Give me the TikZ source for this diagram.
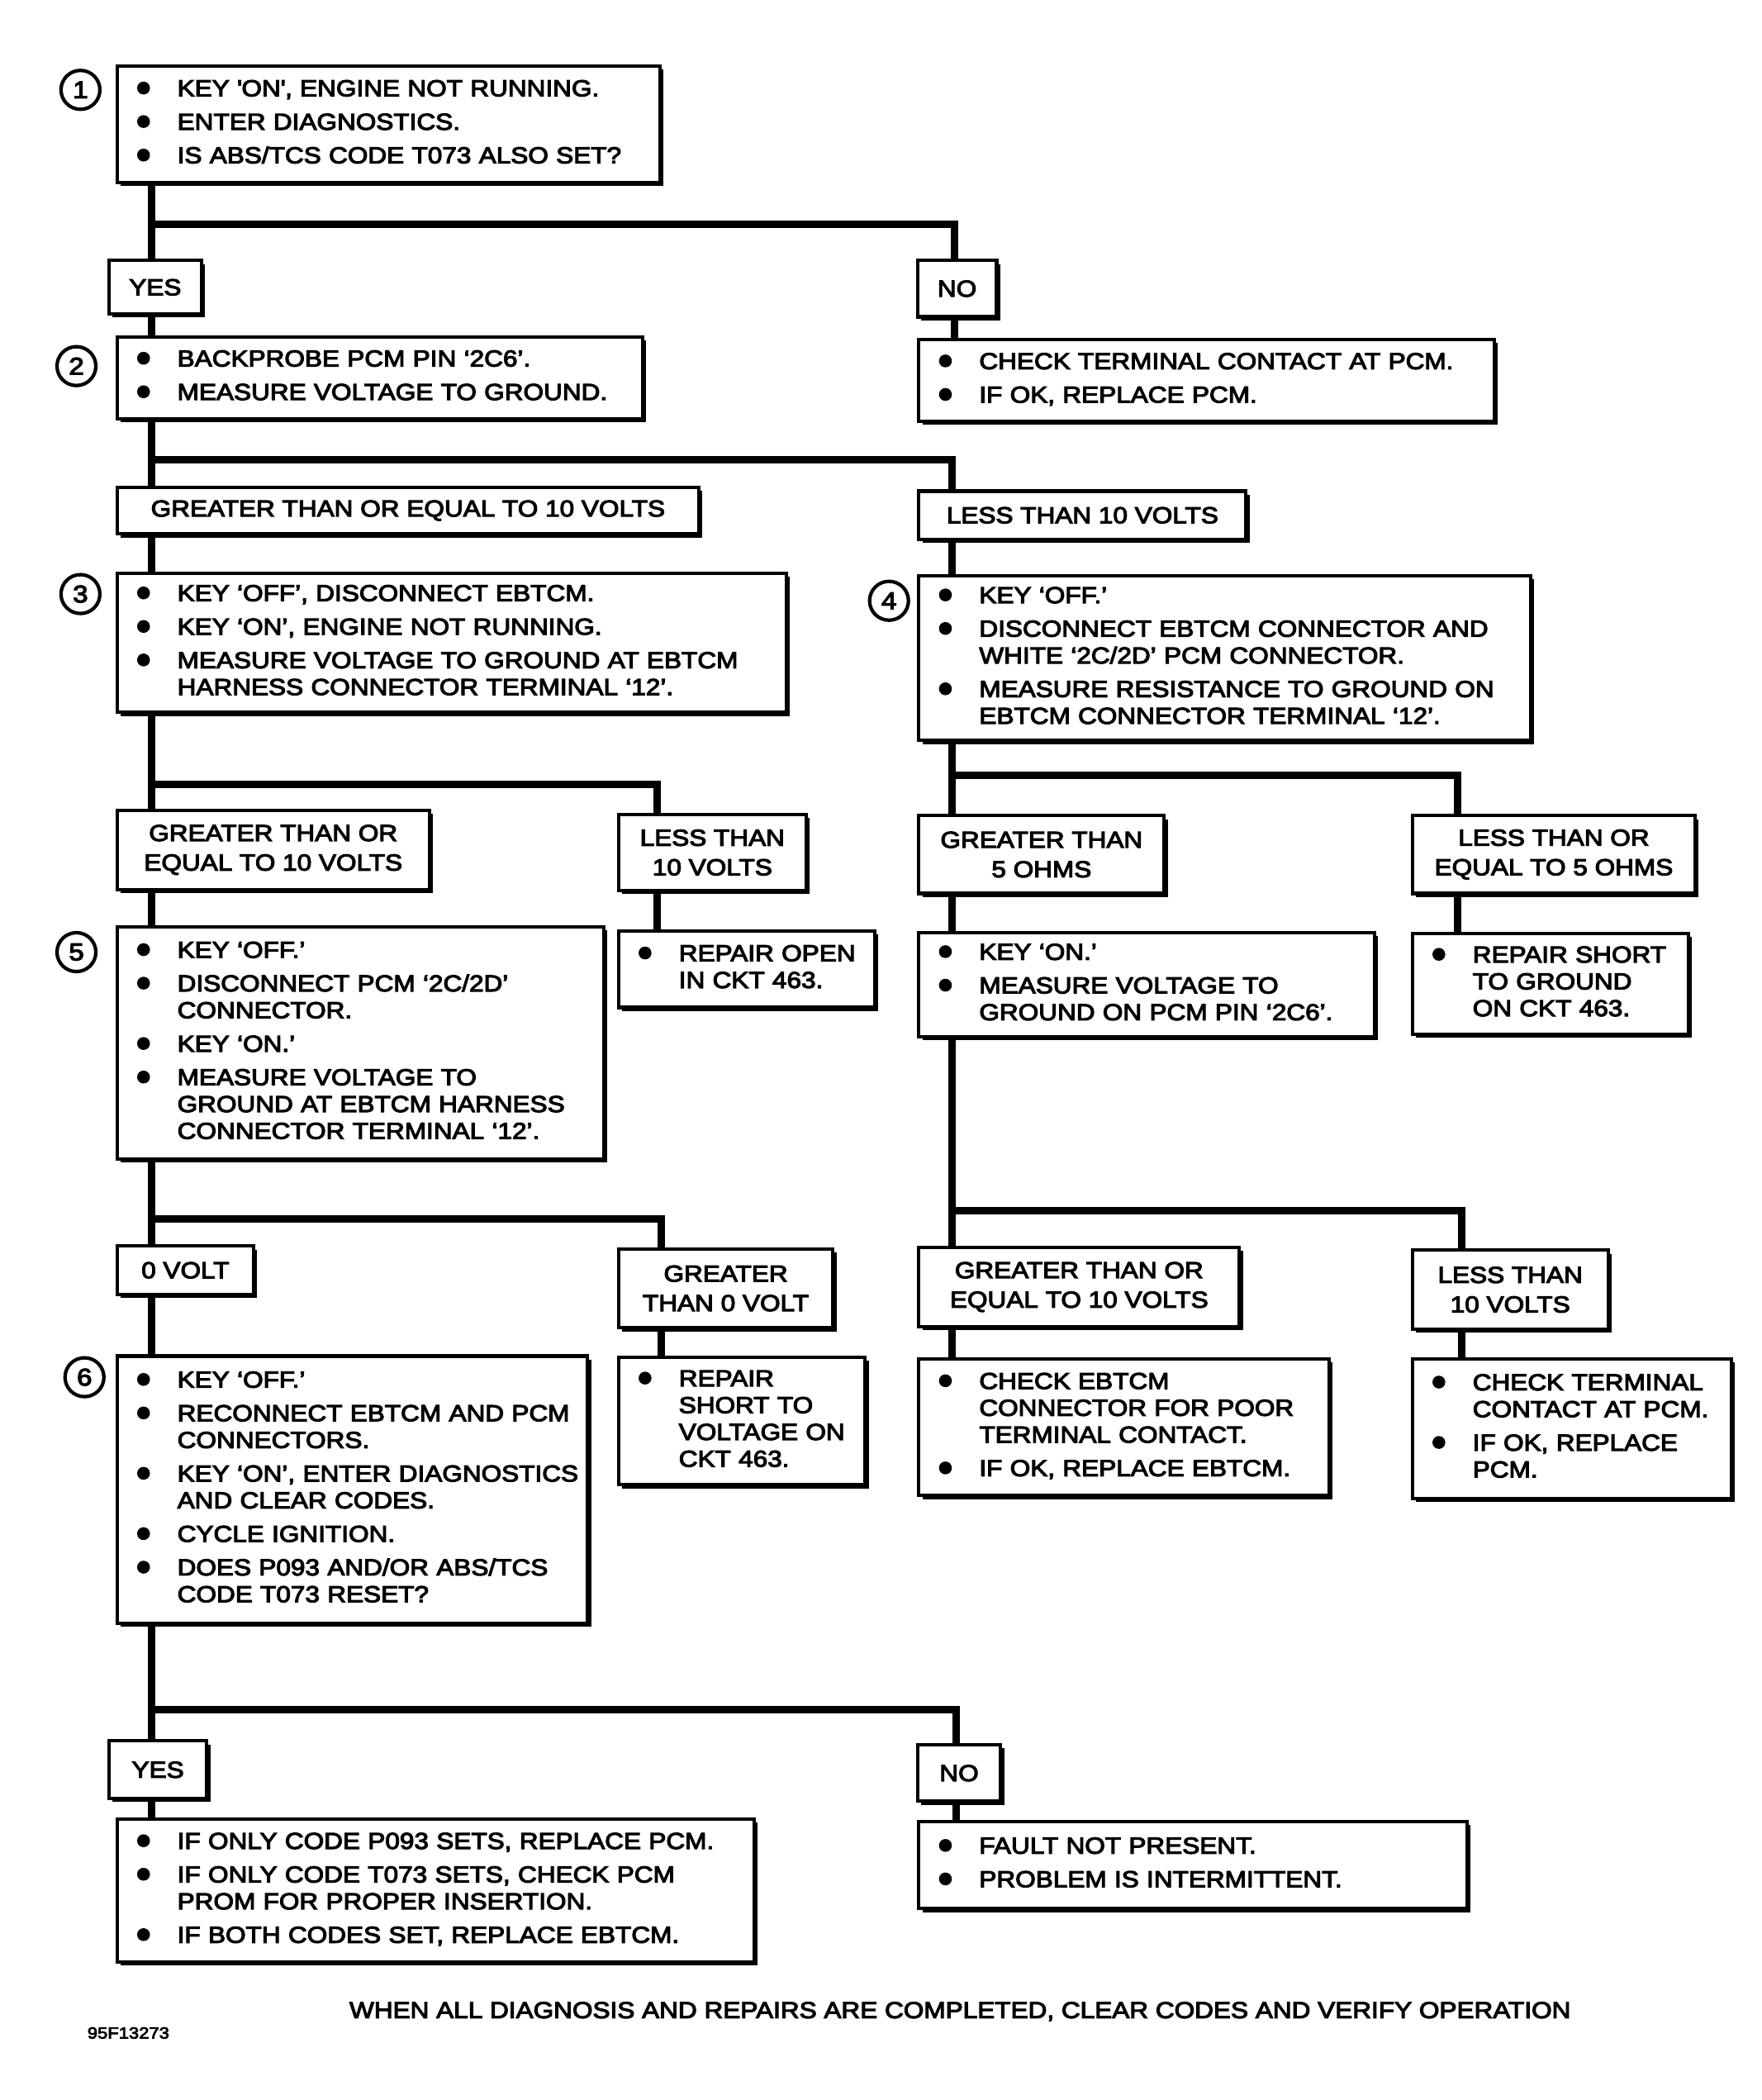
\documentclass[tikz,border=0pt]{standalone}
\usepackage{fontspec}
\setmainfont{Liberation Sans}[FakeBold=4, FakeStretch=1.13]
\usetikzlibrary{backgrounds,shadows}

\newcommand\bul{\makebox[35pt][l]{\hspace{5pt}\tikz[baseline=-6.1pt]\fill (0pt,0pt) circle (4.8pt);}}
\newcommand\steps[1]{\begin{tabular}{@{}l@{}l@{}}#1\end{tabular}}

\tikzset{
  boxed/.style={draw, fill=white, line width=2.5pt,
    drop shadow={shadow xshift=2.6pt, shadow yshift=-2.6pt, opacity=1, fill=black}},
  stepbox/.style={boxed, anchor=north west, inner xsep=10pt, inner ysep=0pt,
    font=\fontsize{17.2}{20}\selectfont},
  answer/.style={boxed, anchor=north west, align=center, inner sep=0pt,
    font=\fontsize{17.2}{22}\selectfont},
  stepno/.style={circle, draw, line width=2.6pt, minimum size=29pt, inner sep=0pt,
    font=\fontsize{18}{20}\selectfont},
  link/.style={line width=5.5pt}
}

\begin{document}
\begin{tikzpicture}[x=1pt,y=-1pt]
\useasboundingbox (0,0) rectangle (1314,1566);

% step numbers
\node[stepno] (one)   at (60,67)   {1};
\node[stepno] (two)   at (57,273)  {2};
\node[stepno] (three) at (60,443)  {3};
\node[stepno] (four)  at (663,448) {4};
\node[stepno] (five)  at (57,710)  {5};
\node[stepno] (six)   at (63,1027) {6};

% left column
\node[stepbox, text width=385pt, minimum height=87pt] (b1) at (86,48)
  {\steps{\bul & KEY \textquotesingle ON\textquotesingle, ENGINE NOT RUNNING.\\[5pt]
          \bul & ENTER DIAGNOSTICS.\\[5pt]
          \bul & IS ABS/TCS CODE T073 ALSO SET?}};
\node[answer, minimum width=69pt, minimum height=40pt] (yes1) at (80,193) {YES};
\node[stepbox, text width=372pt, minimum height=61pt] (b2) at (86,250)
  {\steps{\bul & BACKPROBE PCM PIN ‘2C6’.\\[5pt]
          \bul & MEASURE VOLTAGE TO GROUND.}};
\node[answer, minimum width=434pt, minimum height=35pt] (ge1) at (86,362)
  {GREATER THAN OR EQUAL TO 10 VOLTS};
\node[stepbox, text width=479pt, minimum height=104pt] (b3) at (86,426)
  {\steps{\bul & KEY ‘OFF’, DISCONNECT EBTCM.\\[5pt]
          \bul & KEY ‘ON’, ENGINE NOT RUNNING.\\[5pt]
          \bul & MEASURE VOLTAGE TO GROUND AT EBTCM\\
               & HARNESS CONNECTOR TERMINAL ‘12’.}};
\node[answer, minimum width=233pt, minimum height=59pt] (ge2) at (86,603)
  {GREATER THAN OR\\EQUAL TO 10 VOLTS};
\node[stepbox, text width=343pt, minimum height=173pt] (b5) at (86,690)
  {\steps{\bul & KEY ‘OFF.’\\[5pt]
          \bul & DISCONNECT PCM ‘2C/2D’\\
               & CONNECTOR.\\[5pt]
          \bul & KEY ‘ON.’\\[5pt]
          \bul & MEASURE VOLTAGE TO\\
               & GROUND AT EBTCM HARNESS\\
               & CONNECTOR TERMINAL ‘12’.}};
\node[answer, minimum width=102pt, minimum height=36pt] (zv) at (86,928) {0 VOLT};
\node[stepbox, text width=331pt, minimum height=199pt] (b6) at (86,1010)
  {\steps{\bul & KEY ‘OFF.’\\[5pt]
          \bul & RECONNECT EBTCM AND PCM\\
               & CONNECTORS.\\[5pt]
          \bul & KEY ‘ON’, ENTER DIAGNOSTICS\\
               & AND CLEAR CODES.\\[5pt]
          \bul & CYCLE IGNITION.\\[5pt]
          \bul & DOES P093 AND/OR ABS/TCS\\
               & CODE T073 RESET?}};
\node[answer, minimum width=73pt, minimum height=43pt] (yes2) at (80,1297) {YES};
\node[stepbox, text width=455pt, minimum height=107pt] (r7) at (86,1355)
  {\steps{\bul & IF ONLY CODE P093 SETS, REPLACE PCM.\\[5pt]
          \bul & IF ONLY CODE T073 SETS, CHECK PCM\\
               & PROM FOR PROPER INSERTION.\\[5pt]
          \bul & IF BOTH CODES SET, REPLACE EBTCM.}};

% middle column
\node[answer, minimum width=140pt, minimum height=57pt] (lt2) at (460,606)
  {LESS THAN\\10 VOLTS};
\node[stepbox, text width=171pt, minimum height=57pt] (r2) at (460,693)
  {\steps{\bul & REPAIR OPEN\\
               & IN CKT 463.}};
\node[answer, minimum width=160pt, minimum height=59pt] (gz) at (460,930)
  {GREATER\\THAN 0 VOLT};
\node[stepbox, text width=164pt, minimum height=95pt] (r4) at (460,1011)
  {\steps{\bul & REPAIR\\
               & SHORT TO\\
               & VOLTAGE ON\\
               & CKT 463.}};

% right column
\node[answer, minimum width=59pt, minimum height=42pt] (no1) at (683,193) {NO};
\node[stepbox, text width=409pt, minimum height=61pt] (r1) at (684,252)
  {\steps{\bul & CHECK TERMINAL CONTACT AT PCM.\\[5pt]
          \bul & IF OK, REPLACE PCM.}};
\node[answer, minimum width=244pt, minimum height=36pt] (lt1) at (684,365)
  {LESS THAN 10 VOLTS};
\node[stepbox, text width=436pt, minimum height=123pt] (b4) at (684,428)
  {\steps{\bul & KEY ‘OFF.’\\[5pt]
          \bul & DISCONNECT EBTCM CONNECTOR AND\\
               & WHITE ‘2C/2D’ PCM CONNECTOR.\\[5pt]
          \bul & MEASURE RESISTANCE TO GROUND ON\\
               & EBTCM CONNECTOR TERMINAL ‘12’.}};
\node[answer, minimum width=183pt, minimum height=58pt] (gt3) at (684,607)
  {GREATER THAN\\5 OHMS};
\node[stepbox, text width=320pt, minimum height=78pt] (b7) at (684,694)
  {\steps{\bul & KEY ‘ON.’\\[5pt]
          \bul & MEASURE VOLTAGE TO\\
               & GROUND ON PCM PIN ‘2C6’.}};
\node[answer, minimum width=239pt, minimum height=59pt] (ge4) at (684,929)
  {GREATER THAN OR\\EQUAL TO 10 VOLTS};
\node[stepbox, text width=286pt, minimum height=102pt] (r5) at (684,1012)
  {\steps{\bul & CHECK EBTCM\\
               & CONNECTOR FOR POOR\\
               & TERMINAL CONTACT.\\[5pt]
          \bul & IF OK, REPLACE EBTCM.}};
\node[answer, minimum width=62pt, minimum height=42pt] (no2) at (683,1300) {NO};
\node[stepbox, text width=389pt, minimum height=65pt] (r8) at (684,1357)
  {\steps{\bul & FAULT NOT PRESENT.\\[5pt]
          \bul & PROBLEM IS INTERMITTENT.}};

% far right column
\node[answer, minimum width=211pt, minimum height=58pt] (le3) at (1052,607)
  {LESS THAN OR\\EQUAL TO 5 OHMS};
\node[stepbox, text width=186pt, minimum height=75pt] (r3) at (1052,695)
  {\steps{\bul & REPAIR SHORT\\
               & TO GROUND\\
               & ON CKT 463.}};
\node[answer, minimum width=146pt, minimum height=59pt] (lt4) at (1052,931)
  {LESS THAN\\10 VOLTS};
\node[stepbox, text width=218pt, minimum height=104pt] (r6) at (1052,1012)
  {\steps{\bul & CHECK TERMINAL\\
               & CONTACT AT PCM.\\[5pt]
          \bul & IF OK, REPLACE\\
               & PCM.}};

\node[font=\fontsize{17.2}{20}\selectfont] (note) at (716,1500)
  {WHEN ALL DIAGNOSIS AND REPAIRS ARE COMPLETED, CLEAR CODES AND VERIFY OPERATION};
\node[anchor=west, inner sep=0pt, font=\fontsize{12}{14}\selectfont] (figno) at (65,1516) {95F13273};

% trunks and branches
\coordinate (lx) at (113,0);
\coordinate (rx) at (710,0);
\coordinate (j1) at (113,167);  \coordinate (d1) at (712,167);
\coordinate (j2) at (113,343);  \coordinate (d2) at (710,343);
\coordinate (j3) at (113,585);  \coordinate (d3) at (490,585);
\coordinate (j4) at (710,578);  \coordinate (d4) at (1087,578);
\coordinate (j5) at (113,909);  \coordinate (d5) at (493,909);
\coordinate (j6) at (710,903);  \coordinate (d6) at (1090,903);
\coordinate (j7) at (113,1275); \coordinate (d7) at (713,1275);

\begin{scope}[on background layer]
\foreach \a/\b in {b1/yes1, yes1/b2, b2/ge1, ge1/b3, b3/ge2, ge2/b5, b5/zv, zv/b6, b6/yes2, yes2/r7}
  \draw[link] (lx |- \a.south) -- (lx |- \b.north);
\foreach \a/\b in {b4/gt3, gt3/b7, b7/ge4, ge4/r5}
  \draw[link] (rx |- \a.south) -- (rx |- \b.north);
\foreach \k/\l/\t in {1/no1/r1, 2/lt1/b4, 3/lt2/r2, 4/le3/r3, 5/gz/r4, 6/lt4/r6, 7/no2/r8} {
  \draw[link] (j\k) -- (d\k) -- (d\k |- \l.north);
  \draw[link] (d\k |- \l.south) -- (d\k |- \t.north);
}
\end{scope}
\end{tikzpicture}
\end{document}
